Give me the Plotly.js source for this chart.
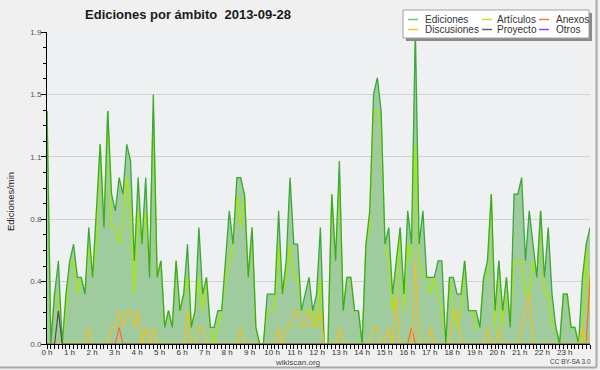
<!DOCTYPE html>
<html>
<head>
<meta charset="utf-8">
<script src="https://cdn.plot.ly/plotly-3.0.1.min.js"></script>
<style>
html,body{margin:0;padding:0;background:#f0f0f0;}
#chart{width:600px;height:370px;}
</style>
</head>
<body>
<div id="chart"></div>
<script>
// ---- data (edits per minute, 10-minute buckets, 2013-09-28) ----
const hourLabels = ["0 h","1 h","2 h","3 h","4 h","5 h","6 h","7 h","8 h","9 h","10 h","11 h",
  "12 h","13 h","14 h","15 h","16 h","17 h","18 h","19 h","20 h","21 h","22 h","23 h"];

const ediciones = [1.4,0,0.3,0.5,0,0.3,0.5,0.6,0.4,0.4,
 0.3,0.7,0.4,0.8,1.2,0.7,1.4,0.9,0.8,1.0,
 0.9,1.2,1.1,0.5,1.0,0.6,1.0,0.4,1.5,0.4,
 0.5,0.1,0.2,0.1,0.5,0.2,0.3,0.6,0.1,0.2,
 0.7,0.3,0.4,0.1,0.1,0.2,0.2,0.5,0.8,0.6,
 1.0,1.0,0.9,0.4,0.7,0.1,0,0,0.3,0.3,
 0.3,0.8,0.3,0.5,1.0,0.6,0.6,0.2,0.3,0.4,
 0.2,0.3,0.7,0,0,0.9,0.5,1.1,0.2,0.4,
 0.4,0.2,0.2,0,0.6,0.8,1.5,1.6,1.4,0.6,
 0.7,0.3,0.5,0.7,0.3,0.8,0.6,1.9,0.6,0.8,
 0.4,0.4,0.4,0.5,0.5,0,0.4,0.4,0.3,0.3,
 0.5,0.2,0.2,0.2,0.1,0.4,0.5,0.9,0.2,0.5,
 0.2,0.4,0.1,0.9,0.9,1.0,0.5,0.8,0.6,0.4,
 0.8,0.4,0.7,0.3,0.1,0,0.3,0.3,0.1,0.1,
 0,0.4,0.6,0.7];

const articulos = [1.4,0,0.3,0.3,0,0.2,0.5,0.5,0.3,0.4,
 0.3,0.6,0.4,0.6,1.2,0.7,1.4,0.7,0.7,0.6,
 0.7,1.0,0.8,0.3,0.8,0.6,0.8,0.4,1.4,0.4,
 0.5,0.1,0.2,0.1,0.5,0.2,0.3,0.4,0.1,0.2,
 0.4,0.2,0.4,0.1,0,0.1,0.2,0.4,0.5,0.6,
 0.9,0.7,0.9,0.4,0.7,0.1,0,0,0.2,0.2,
 0.2,0.6,0.3,0.4,0.6,0.4,0.4,0.2,0.2,0.2,
 0.2,0.1,0.4,0,0,0.9,0.5,1.0,0.2,0.4,
 0.4,0.2,0.2,0,0.6,0.7,1.4,1.4,1.3,0.6,
 0.5,0.2,0.3,0.7,0.2,0.6,0.5,1.2,0.5,0.4,
 0.4,0.3,0.4,0.3,0.2,0,0.4,0.2,0.1,0.2,
 0.5,0.2,0.2,0.1,0.1,0.4,0.4,0.9,0.1,0.5,
 0.1,0.4,0.1,0.5,0.5,0.5,0.3,0.3,0.5,0.4,
 0.8,0.3,0.3,0.1,0.1,0,0.3,0.3,0.1,0.1,
 0,0,0.6,0.2];

const discusiones = [0,0,0,0,0,0,0,0,0,0,
 0,0.1,0,0,0,0,0,0.1,0.1,0.2,
 0.1,0.2,0.2,0.1,0.2,0,0.1,0,0.1,0,
 0,0,0,0,0,0,0,0.2,0,0,
 0.1,0.1,0,0,0,0,0,0,0,0,
 0,0.1,0,0,0,0,0,0,0,0,
 0,0.1,0,0.1,0.1,0.2,0.2,0.1,0.1,0.2,
 0.1,0.1,0.2,0,0,0,0,0.1,0,0,
 0,0,0,0,0,0,0.1,0.1,0,0,
 0.1,0,0.3,0,0,0,0,0.5,0,0,
 0,0.1,0,0,0,0,0,0.2,0.2,0,
 0,0,0,0,0,0,0.1,0,0,0.1,
 0,0,0,0,0,0.1,0.2,0.3,0,0,
 0,0,0,0,0,0,0,0,0,0,
 0,0.1,0,0];

const anexos = [0,0,0,0,0,0,0,0,0,0,
 0,0,0,0,0,0,0,0,0,0.1,
 0,0,0,0,0,0,0,0,0,0,
 0,0,0,0,0,0,0,0,0,0,
 0,0,0,0,0,0,0,0,0,0,
 0,0,0,0,0,0,0,0,0,0,
 0,0,0,0,0,0,0,0,0,0,
 0,0,0,0,0,0,0,0,0,0,
 0,0,0,0,0,0,0,0,0,0,
 0,0,0,0,0,0,0.1,0,0,0,
 0,0,0,0,0,0,0,0,0,0,
 0,0,0,0,0,0,0,0,0,0,
 0,0,0,0,0,0,0,0,0,0,
 0,0,0,0,0,0,0,0,0,0,
 0,0,0,0.4];

const proyecto = [0,0,0,0.2,0,0,0,0,0,0,
 0,0,0,0,0,0,0,0,0,0,
 0,0,0,0,0,0,0,0,0,0,
 0,0,0,0,0,0,0,0,0,0,
 0,0,0,0,0,0,0,0,0,0,
 0,0,0,0,0,0,0,0,0,0,
 0,0,0,0,0,0,0,0,0,0,
 0,0,0,0,0,0,0,0,0,0,
 0,0,0,0,0,0,0,0,0,0,
 0,0,0,0,0,0,0,0,0,0,
 0,0,0,0,0,0,0,0,0,0,
 0,0,0,0,0,0,0,0,0,0,
 0,0,0,0,0,0,0,0,0,0,
 0,0,0,0,0,0,0,0,0,0,
 0,0,0,0];

const otros = [0,0,0,0,0,0,0,0,0,0,
 0,0,0,0,0,0,0,0,0,0,
 0,0,0,0,0,0,0,0,0,0,
 0,0,0,0,0,0,0,0,0,0,
 0,0,0,0,0,0,0,0,0,0,
 0,0,0,0,0,0,0,0,0,0,
 0,0,0,0,0,0,0,0,0,0,
 0,0,0,0,0,0,0,0,0,0,
 0,0,0,0,0,0,0,0,0,0,
 0,0,0,0,0,0,0,0,0,0,
 0,0,0,0,0,0,0,0,0,0,
 0,0,0,0,0,0,0,0,0,0,
 0,0,0,0,0,0,0,0,0,0,
 0,0,0,0,0,0,0,0,0,0,
 0,0,0,0];

const yTickVals = [0, 0.375, 0.75, 1.125, 1.5, 1.875];
const yTickText = ["0.0", "0.4", "0.8", "1.1", "1.5", "1.9"];

const seriesNames = ["Ediciones", "Artículos", "Anexos", "Discusiones", "Proyecto", "Otros"];
const seriesColors = ["#3aa83a", "#a6e51a", "#ff6a2a", "#f2c01e", "#505050", "#9b30ff"];
const legendColors = ["#6cc86c", "#b8ec2a", "#ff7a3a", "#f5c828", "#606060", "#9b40ff"];
const fillColor = "#a0cb9e";

// ---- geometry helpers (pixel -> paper) ----
const M = {l: 47, r: 10, t: 32, b: 26};
const W = 600, H = 370;
const PW = W - M.l - M.r, PH = H - M.t - M.b;
const px = v => (v - M.l) / PW;
const py = v => (H - M.b - v) / PH;

const times = ediciones.map((_, i) => i / 6);
const xMax = (ediciones.length - 1) / 6;

function line(y, name, color, width) {
  return {x: times, y: y, type: "scatter", mode: "lines", name: name,
    line: {color: color, width: width}, showlegend: false, hoverinfo: "skip"};
}

const traces = [
  line(otros, "Otros", seriesColors[5], 1.2),
  {x: times, y: ediciones, type: "scatter", mode: "none", fill: "tozeroy",
   fillcolor: fillColor, showlegend: false, hoverinfo: "skip"},
  line(articulos, "Artículos", seriesColors[1], 1.6),
  line(ediciones, "Ediciones", seriesColors[0], 1.3),
  line(anexos, "Anexos", seriesColors[2], 1.2),
  line(discusiones, "Discusiones", seriesColors[3], 1.2),
  line(proyecto, "Proyecto", seriesColors[4], 1.2)
];

// ---- custom legend (3 columns x 2 rows) ----
const legendOrder = [0, 1, 2, 3, 4, 5];
const colLine = [408, 482, 539];
const colText = [423, 495, 554];
const rowY = [19.5, 29.5];
const shapes = [];
const annotations = [];

// legend shadow + box
shapes.push({type: "rect", xref: "paper", yref: "paper", x0: px(406), x1: px(592), y0: py(41), y1: py(13),
  fillcolor: "#8a8a8a", line: {width: 0}, layer: "above"});
shapes.push({type: "rect", xref: "paper", yref: "paper", x0: px(403), x1: px(589), y0: py(38), y1: py(10),
  fillcolor: "#ffffff", line: {color: "#a0a0a0", width: 1}, layer: "above"});

legendOrder.forEach((k, j) => {
  const c = j % 3, r = Math.floor(j / 3);
  shapes.push({type: "line", xref: "paper", yref: "paper", x0: px(colLine[c]), x1: px(colLine[c] + 10),
    y0: py(rowY[r]), y1: py(rowY[r]), line: {color: legendColors[k], width: 1.5}, layer: "above"});
  annotations.push({xref: "paper", yref: "paper", x: px(colText[c]), y: py(rowY[r]), text: seriesNames[k],
    showarrow: false, xanchor: "left", yanchor: "middle",
    font: {family: "Liberation Sans", size: 10, color: "#333"}});
});

// outer frame (right / bottom edge)
shapes.push({type: "line", xref: "paper", yref: "paper", x0: px(596.5), x1: px(596.5), y0: py(0), y1: py(367.5),
  line: {color: "#a8a8a8", width: 2}, layer: "above"});
shapes.push({type: "line", xref: "paper", yref: "paper", x0: px(0), x1: px(596.5), y0: py(367.5), y1: py(367.5),
  line: {color: "#a8a8a8", width: 2}, layer: "above"});

// y-axis title
annotations.push({xref: "paper", yref: "paper", x: px(10), y: py(202), text: "Ediciones/min",
  textangle: -90, showarrow: false, xanchor: "center", yanchor: "middle",
  font: {family: "Liberation Sans", size: 9.5, color: "#222"}});
// footer
annotations.push({xref: "paper", yref: "paper", x: px(297.5), y: py(362), text: "wikiscan.org",
  showarrow: false, xanchor: "center", yanchor: "middle",
  font: {family: "Liberation Sans", size: 8, color: "#444"}});
annotations.push({xref: "paper", yref: "paper", x: px(570), y: py(361), text: "CC BY-SA 3.0",
  showarrow: false, xanchor: "center", yanchor: "middle",
  font: {family: "Liberation Sans", size: 6.5, color: "#444"}});

const tickPos = hourLabels.map((_, h) => h * 0.988);

const layout = {
  width: W, height: H,
  margin: {l: M.l, r: M.r, t: M.t, b: M.b, pad: 0},
  paper_bgcolor: "#f0f0f0",
  plot_bgcolor: "#eef0f2",
  title: {text: "<b>Ediciones por ámbito  2013-09-28</b>", x: 188 / W, xanchor: "center",
    y: 1 - 14 / H, yanchor: "middle", xref: "container", yref: "container",
    font: {family: "Liberation Sans", size: 13, color: "#1a1a1a"}},
  xaxis: {
    range: [0, xMax], tickmode: "array", tickvals: tickPos, ticktext: hourLabels,
    ticks: "outside", ticklen: 4, tickcolor: "rgba(0,0,0,0)",
    showline: true, linecolor: "#000", linewidth: 1, showgrid: false, zeroline: false,
    tickfont: {family: "Liberation Sans", size: 8, color: "#333"},
    ticklabelstandoff: -4,
    minor: {ticks: "outside", ticklen: 4, tickcolor: "#000", tickwidth: 1, tickmode: "linear",
      tick0: 0, dtick: 1 / 6, showgrid: false},
    fixedrange: true
  },
  yaxis: {
    range: [0, 1.875], tickmode: "array", tickvals: yTickVals, ticktext: yTickText,
    ticks: "outside", ticklen: 5, tickcolor: "#000",
    showline: true, linecolor: "#000", linewidth: 1,
    showgrid: true, gridcolor: "#d2d2d2", gridwidth: 1, zeroline: false,
    tickfont: {family: "Liberation Sans", size: 8, color: "#555"},
    ticklabelstandoff: -2,
    minor: {ticks: "outside", ticklen: 3, tickcolor: "#000", tickmode: "linear",
      tick0: 0, dtick: 0.09375, showgrid: false},
    fixedrange: true
  },
  shapes: shapes,
  annotations: annotations,
  showlegend: false
};

Plotly.newPlot("chart", traces, layout, {displayModeBar: false, staticPlot: true});
</script>
</body>
</html>
